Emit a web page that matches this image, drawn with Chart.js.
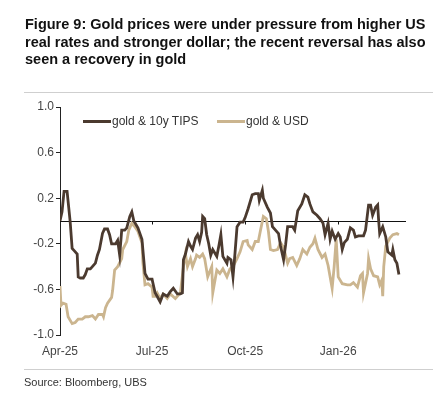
<!DOCTYPE html>
<html>
<head>
<meta charset="utf-8">
<script src="https://cdn.jsdelivr.net/npm/chart.js@4.4.1/dist/chart.umd.min.js"></script>
<style>
  body { margin: 0; background: #fff; font-family: "Liberation Sans", Arial, sans-serif; }
  #wrap { position: relative; width: 439px; height: 397px; overflow: hidden; }
  #title { position: absolute; left: 25px; top: 16px; font-weight: bold; font-size: 14.5px; line-height: 17.5px; color: #111; white-space: nowrap; }
  .rule { position: absolute; left: 24px; width: 409px; height: 1px; background: #cfcfcf; }
  #source { position: absolute; left: 24px; top: 376px; font-size: 11px; color: #333; }
  #legend { position: absolute; top: 114px; font-size: 12px; color: #333; }
  .item { position: absolute; white-space: nowrap; }
  .swatch { display: inline-block; width: 28px; height: 3px; vertical-align: middle; margin-right: 1px; }
  canvas { position: absolute; left: 0; top: 0; }
</style>
</head>
<body>
<div id="wrap">
  <canvas id="chart" width="439" height="397"></canvas>
  <div id="title">Figure 9: Gold prices were under pressure from higher US<br>real rates and stronger dollar; the recent reversal has also<br>seen a recovery in gold</div>
  <div class="rule" style="top:92px"></div>
  <div id="legend"></div>
  <div class="rule" style="top:369px"></div>
  <div id="source">Source: Bloomberg, UBS</div>
</div>
<script>
// day offsets are days since 1 Apr 2025
const tipsDays = [0, 2, 4, 7, 10, 12, 14, 17, 18, 20, 23, 25, 27, 30, 32, 35, 37, 39, 42, 44, 47, 49, 51, 55, 57, 59, 61, 64, 66, 69, 71, 73, 77, 81, 84, 87, 91, 92, 94, 96, 99, 102, 106, 109, 112, 116, 119, 121, 122, 124, 127, 129, 131, 134, 136, 138, 140, 141, 143, 145, 147, 149, 151, 155, 157, 159, 161, 165, 166, 169, 171, 173, 175, 178, 181, 183, 186, 190, 193, 196, 197, 200, 201, 205, 208, 210, 213, 216, 218, 221, 223, 225, 227, 230, 232, 235, 239, 242, 245, 247, 250, 254, 257, 260, 262, 265, 267, 269, 272, 275, 277, 279, 281, 284, 287, 290, 292, 295, 300, 302, 305, 307, 309, 312, 314, 315, 316, 319, 322, 324, 328, 329, 331, 333, 335];
const tipsCorr = [0.0, 0.08, 0.26, 0.26, 0.0, -0.24, -0.26, -0.29, -0.49, -0.5, -0.5, -0.47, -0.42, -0.42, -0.40, -0.37, -0.30, -0.25, -0.11, -0.07, -0.07, -0.12, -0.2, -0.2, -0.17, -0.30, -0.08, -0.08, -0.06, 0.04, 0.08, 0.0, -0.06, -0.16, -0.46, -0.51, -0.51, -0.55, -0.63, -0.66, -0.71, -0.64, -0.66, -0.62, -0.59, -0.64, -0.64, -0.63, -0.34, -0.29, -0.18, -0.22, -0.25, -0.15, -0.12, -0.18, -0.1, 0.04, 0.02, -0.12, -0.2, -0.3, -0.25, -0.31, -0.22, -0.12, -0.31, -0.37, -0.32, -0.34, -0.49, -0.28, -0.05, -0.01, -0.01, 0.03, 0.11, 0.23, 0.24, 0.24, 0.18, 0.27, 0.2, 0.12, 0.07, -0.05, -0.08, -0.11, -0.22, -0.34, -0.21, -0.05, -0.05, -0.05, -0.08, 0.09, 0.15, 0.23, 0.21, 0.15, 0.08, 0.05, 0.02, -0.02, -0.12, -0.02, -0.16, -0.09, -0.16, -0.11, -0.14, -0.25, -0.19, -0.16, -0.06, -0.08, -0.14, -0.13, -0.13, -0.08, 0.14, 0.14, 0.05, 0.12, 0.14, 0.0, -0.11, -0.05, -0.14, -0.27, -0.30, -0.25, -0.34, -0.37, -0.47];

const usdDays = [0, 1, 3, 6, 8, 12, 15, 18, 22, 25, 28, 32, 35, 38, 42, 43, 45, 47, 51, 52, 54, 57, 61, 62, 66, 68, 71, 74, 77, 81, 82, 84, 87, 91, 92, 94, 96, 99, 102, 106, 109, 114, 119, 122, 124, 126, 129, 131, 134, 135, 138, 141, 143, 146, 150, 151, 155, 158, 161, 165, 168, 171, 175, 178, 181, 185, 186, 190, 193, 196, 198, 201, 204, 206, 208, 211, 215, 218, 221, 225, 227, 230, 234, 237, 240, 244, 247, 250, 252, 255, 259, 262, 265, 269, 271, 273, 275, 279, 284, 287, 290, 294, 297, 299, 300, 304, 305, 307, 310, 314, 316, 318, 319, 320, 322, 326, 329, 333, 335];
const usdCorr = [-0.57, -0.74, -0.72, -0.73, -0.84, -0.9, -0.89, -0.86, -0.86, -0.84, -0.84, -0.83, -0.86, -0.82, -0.82, -0.84, -0.76, -0.72, -0.67, -0.61, -0.43, -0.40, -0.33, -0.25, -0.18, -0.08, -0.02, -0.05, -0.09, -0.19, -0.37, -0.56, -0.55, -0.58, -0.66, -0.66, -0.63, -0.68, -0.64, -0.68, -0.64, -0.68, -0.63, -0.40, -0.29, -0.40, -0.33, -0.40, -0.33, -0.30, -0.32, -0.29, -0.33, -0.49, -0.40, -0.63, -0.43, -0.46, -0.42, -0.49, -0.42, -0.40, -0.33, -0.27, -0.18, -0.17, -0.21, -0.25, -0.18, -0.18, -0.09, 0.04, 0.02, -0.09, -0.25, -0.26, -0.25, -0.19, -0.23, -0.37, -0.33, -0.32, -0.39, -0.33, -0.25, -0.29, -0.23, -0.20, -0.15, -0.25, -0.32, -0.29, -0.39, -0.59, -0.40, -0.16, -0.49, -0.55, -0.56, -0.56, -0.54, -0.58, -0.48, -0.46, -0.63, -0.46, -0.33, -0.42, -0.48, -0.49, -0.56, -0.52, -0.66, -0.40, -0.22, -0.15, -0.12, -0.11, -0.12];

const tickDays = [0, 91, 183, 275];
const tickLabels = ['Apr-25', 'Jul-25', 'Oct-25', 'Jan-26'];
const yTicks = [1.0, 0.6, 0.2, -0.2, -0.6, -1.0];

const seriesNames = ['gold & 10y TIPS', 'gold & USD'];
const seriesColors = ['#4b3a2f', '#cbb58f'];
const legendLeft = [83, 217];

const legend = document.getElementById('legend');
seriesNames.forEach((name, i) => {
    const item = document.createElement('span');
    item.className = 'item';
    item.style.left = legendLeft[i] + 'px';
    item.innerHTML = `<span class="swatch" style="background:${seriesColors[i]}"></span>${name}`;
    legend.appendChild(item);
});

function toPoints(days, vals) {
    return days.map((d, i) => ({ x: d, y: vals[i] }));
}

const zeroLine = {
    id: 'zeroLine',
    beforeDatasetsDraw(chart) {
        const { ctx, chartArea, scales } = chart;
        const y0 = Math.round(scales.y.getPixelForValue(0)) + 0.5;
        ctx.save();
        ctx.strokeStyle = '#111';
        ctx.lineWidth = 1;
        ctx.beginPath();
        ctx.moveTo(chartArea.left, y0);
        ctx.lineTo(chartArea.right, y0);
        tickDays.slice(1).forEach(d => {
            const x = Math.round(scales.x.getPixelForValue(d)) + 0.5;
            ctx.moveTo(x, y0);
            ctx.lineTo(x, y0 + 3);
        });
        ctx.stroke();
        ctx.restore();
    }
};

new Chart(document.getElementById('chart'), {
    type: 'line',
    data: {
        datasets: [{
            label: seriesNames[0],
            data: toPoints(tipsDays, tipsCorr),
            borderColor: seriesColors[0],
            borderWidth: 2.8,
            pointRadius: 0,
            tension: 0
        }, {
            label: seriesNames[1],
            data: toPoints(usdDays, usdCorr),
            borderColor: seriesColors[1],
            borderWidth: 2.8,
            pointRadius: 0,
            tension: 0
        }]
    },
    options: {
        responsive: false,
        animation: false,
        layout: { padding: { left: 0, top: 107, right: 33, bottom: 0 } },
        plugins: { legend: { display: false }, tooltip: { enabled: false } },
        scales: {
            x: {
                type: 'linear',
                min: 0,
                max: 342,
                afterFit: s => { s.height = 62; },
                afterBuildTicks: s => { s.ticks = tickDays.map(v => ({ value: v })); },
                border: { display: false },
                grid: { display: false, drawTicks: false },
                ticks: {
                    autoSkip: false,
                    maxRotation: 0,
                    padding: 9,
                    color: '#444',
                    font: { family: 'Liberation Sans', size: 12 },
                    callback: v => tickLabels[tickDays.indexOf(v)]
                }
            },
            y: {
                min: -1,
                max: 1,
                afterFit: s => { s.width = 60; },
                afterBuildTicks: s => { s.ticks = yTicks.map(v => ({ value: v })); },
                border: { display: true, color: '#222', width: 1 },
                grid: { drawOnChartArea: false, drawTicks: true, tickLength: 4, color: '#222' },
                ticks: {
                    padding: 2,
                    color: '#444',
                    font: { family: 'Liberation Sans', size: 12 },
                    callback: v => v.toFixed(1)
                }
            }
        }
    },
    plugins: [zeroLine]
});
</script>
</body>
</html>
